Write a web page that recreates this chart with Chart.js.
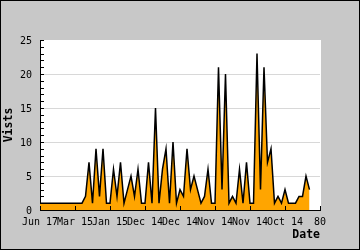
<!DOCTYPE html>
<html>
<head>
<meta charset="utf-8">
<script src="https://cdn.jsdelivr.net/npm/chart.js@4.4.0/dist/chart.umd.min.js"></script>
<style>
  html, body { margin: 0; padding: 0; background: #c8c8c8; }
  #wrap { width: 360px; height: 250px; }
</style>
</head>
<body>
<div id="wrap"><canvas id="visitChart"></canvas></div>
<script>
// visits per period
var visits = [1,1,1,1,1,1,1,1,1,1,1,1,1,2,7,1,9,2,9,1,
              1,6,2,7,1,3,5,2,6,1,1,7,1,15,1,6,9,1,10,1,
              3,2,9,3,5,3,1,2,6,1,1,21,3,20,1,2,1,6,1,7,
              1,1,23,3,21,7,9,1,2,1,3,1,1,1,2,2,5,3];
var xTickValues = [0, 10, 20, 30, 40, 50, 60, 70, 80];
var xTickLabels = ['Jun 17', 'Mar 15', 'Jan 15', 'Dec 14', 'Dec 14', 'Nov 14', 'Nov 14', 'Oct 14', '80'];
var yTickLabels = [0, 5, 10, 15, 20, 25];

var mono = 'DejaVu Sans Mono';

// grey frame + white plot area
var backdrop = {
  id: 'backdrop',
  beforeDraw: function (chart) {
    var ctx = chart.ctx, a = chart.chartArea;
    ctx.save();
    ctx.fillStyle = '#c8c8c8';
    ctx.fillRect(0, 0, chart.width, chart.height);
    ctx.fillStyle = '#ffffff';
    ctx.fillRect(a.left, a.top, a.right - a.left + 1, a.bottom - a.top);
    ctx.restore();
  },
  afterDraw: function (chart) {
    var ctx = chart.ctx;
    ctx.save();
    ctx.strokeStyle = '#000';
    ctx.lineWidth = 1;
    ctx.strokeRect(0.5, 0.5, chart.width - 1, chart.height - 1);
    ctx.restore();
  }
};

// tick marks pointing inward + y labels every 5
var axisMarks = {
  id: 'axisMarks',
  afterDatasetsDraw: function (chart) {
    var ctx = chart.ctx;
    var xs = chart.scales.x, ys = chart.scales.y;
    ctx.save();
    ctx.strokeStyle = '#000';
    ctx.lineWidth = 1;
    ctx.beginPath();
    for (var v = 0; v <= 25; v++) {
      var py = Math.round(ys.getPixelForValue(v)) + 0.5;
      ctx.moveTo(ys.right, py);
      ctx.lineTo(ys.right + 4, py);
    }
    xTickValues.forEach(function (t) {
      var px = Math.round(xs.getPixelForValue(t)) + 0.5;
      ctx.moveTo(px, xs.top);
      ctx.lineTo(px, xs.top - 4);
    });
    ctx.stroke();

    ctx.fillStyle = '#000';
    ctx.font = '10px "' + mono + '"';
    ctx.textAlign = 'right';
    ctx.textBaseline = 'middle';
    yTickLabels.forEach(function (t) {
      ctx.fillText(String(t), ys.right - 8, ys.getPixelForValue(t) + 1);
    });
    ctx.restore();
  }
};

new Chart(document.getElementById('visitChart'), {
  type: 'line',
  data: {
    datasets: [{
      data: visits.map(function (v, i) { return { x: i, y: v }; }),
      borderColor: '#000000',
      borderWidth: 1.5,
      backgroundColor: '#ffa500',
      fill: 'origin',
      pointRadius: 0,
      tension: 0
    }]
  },
  options: {
    responsive: true,
    maintainAspectRatio: false,
    animation: false,
    layout: { padding: { left: 0, top: 40, right: 40, bottom: 0 } },
    plugins: {
      legend: { display: false },
      tooltip: { enabled: false }
    },
    scales: {
      x: {
        type: 'linear',
        min: 0,
        max: 80,
        afterFit: function (s) { s.height = 40; },
        afterBuildTicks: function (s) {
          s.ticks = xTickValues.map(function (v) { return { value: v }; });
        },
        ticks: {
          autoSkip: false,
          maxRotation: 0,
          padding: 6,
          color: '#000',
          font: { family: mono, size: 10 },
          callback: function (v) { return xTickLabels[xTickValues.indexOf(v)]; }
        },
        grid: { display: false, drawTicks: false },
        border: { display: true, color: '#000', width: 1 },
        title: {
          display: true,
          text: 'Date',
          align: 'end',
          color: '#000',
          font: { family: mono, size: 11.5, weight: 'bold' },
          padding: { top: 0, bottom: 8 }
        }
      },
      y: {
        min: 0,
        max: 25,
        afterFit: function (s) { s.width = 40; },
        ticks: { display: false, stepSize: 1 },
        grid: {
          drawTicks: false,
          color: function (c) {
            var v = c.tick.value;
            return (v % 5 === 0 && v > 0 && v < 25) ? '#d8d8d8' : 'rgba(0,0,0,0)';
          }
        },
        border: { display: true, color: '#000', width: 1 },
        title: {
          display: true,
          text: 'Vists',
          color: '#000',
          font: { family: mono, size: 11.5, weight: 'bold' },
          padding: { top: 2, bottom: 0 }
        }
      }
    }
  },
  plugins: [backdrop, axisMarks]
});
</script>
</body>
</html>
